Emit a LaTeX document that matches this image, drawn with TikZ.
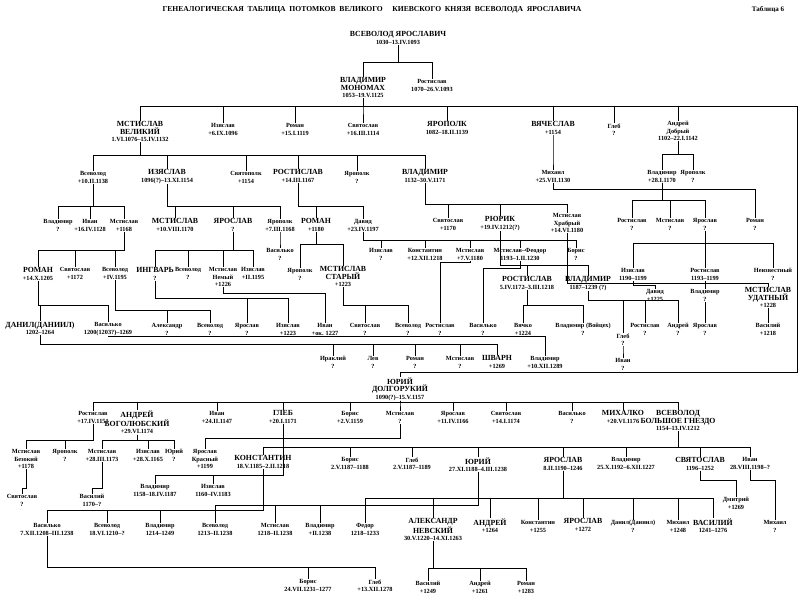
\documentclass[tikz,border=0pt]{standalone}
\usepackage{fontspec}
\setmainfont{Liberation Serif}
\newcommand\nm[1]{{\fontsize{7.8}{8.4}\selectfont #1}}
\newcommand\p[4]{\node[pers] (#1) at (#2,#3) {#4};}
\newcommand\kin[3]{\foreach \k in {#3} \draw[tie] (#1.south) -- (#1.south |- 0,#2) -| (\k.north);}
\begin{document}
\begin{tikzpicture}[
	x=1pt, y=-1pt,
	pers/.style={anchor=north, align=center, inner sep=0.4pt,
		font=\fontsize{6.3}{7.4}\selectfont\bfseries},
	tie/.style={line width=0.9pt}
]
	\useasboundingbox (0,0) rectangle (800,602);
	% title
	\node[font=\fontsize{7.6}{8}\selectfont\bfseries] (title) at (372,10)
		{ГЕНЕАЛОГИЧЕСКАЯ \ ТАБЛИЦА \ ПОТОМКОВ \ ВЕЛИКОГО \quad КИЕВСКОГО \ КНЯЗЯ \ ВСЕВОЛОДА \ ЯРОСЛАВИЧА};
	\node[font=\fontsize{7}{8}\selectfont\bfseries] (tab) at (768,10) {Таблица 6};
	% generation 1-2
	\p{vsev}{398}{31}{\nm{ВСЕВОЛОД ЯРОСЛАВИЧ}\\1030--13.IV.1093}
	\p{mono}{363}{77}{\nm{ВЛАДИМИР}\\\nm{МОНОМАХ}\\1053--19.V.1125}
	\p{rost}{432}{79}{Ростислав\\1070--26.V.1093}
	\kin{vsev}{62}{mono,rost}
	% sons of Monomakh
	\p{mstv}{140}{121}{\nm{МСТИСЛАВ}\\\nm{ВЕЛИКИЙ}\\1.VI.1076--15.IV.1132}
	\p{izm}{223}{123}{Изяслав\\+6.IX.1096}
	\p{romm}{295}{123}{Роман\\+15.I.1119}
	\p{svm}{363}{123}{Святослав\\+16.III.1114}
	\p{jarp}{447}{121}{\nm{ЯРОПОЛК}\\1082--18.II.1139}
	\p{vjach}{553}{121}{\nm{ВЯЧЕСЛАВ}\\+1154}
	\p{glm}{614}{123}{Глеб\\?}
	\p{andd}{678}{121}{Андрей\\Добрый\\1102--22.I.1142}
	\kin{mono}{106}{mstv,izm,romm,svm,jarp,vjach,glm,andd}
	% grandsons
	\p{vsm}{93}{171}{Всеволод\\+10.II.1138}
	\p{izs}{167}{169}{\nm{ИЗЯСЛАВ}\\1096(?)--13.XI.1154}
	\p{svp}{246}{171}{Святополк\\+1154}
	\p{rsl}{298}{169}{\nm{РОСТИСЛАВ}\\+14.III.1167}
	\p{jrp}{357}{171}{Ярополк\\?}
	\p{vlm}{425}{169}{\nm{ВЛАДИМИР}\\1132--30.V.1171}
	\kin{mstv}{155}{vsm,izs,svp,rsl,jrp,vlm}
	\p{mih}{553}{170}{Михаил\\+25.VII.1130}
	\kin{vjach}{160}{mih}
	\p{vla}{662}{170}{Владимир\\+28.I.1170}
	\p{jra}{693}{170}{Ярополк\\?}
	\kin{andd}{154}{vla,jra}
	% row 5
	\p{vl5}{58}{219}{Владимир\\?}
	\p{iv5}{90}{219}{Иван\\+16.IV.1128}
	\p{ms5}{124}{219}{Мстислав\\+1168}
	\kin{vsm}{206}{vl5,iv5,ms5}
	\p{ms6}{175}{218}{\nm{МСТИСЛАВ}\\+10.VIII.1170}
	\p{ja6}{233}{218}{\nm{ЯРОСЛАВ}\\?}
	\p{jp6}{280}{219}{Ярополк\\+7.III.1168}
	\kin{izs}{206}{ms6,ja6,jp6}
	\p{rom7}{316}{218}{\nm{РОМАН}\\+1180}
	\p{dav7}{363}{219}{Давид\\+23.IV.1197}
	\kin{rsl}{206}{rom7,dav7}
	\p{sv8}{448}{218}{Святослав\\+1170}
	\p{rjur}{500}{216}{\nm{РЮРИК}\\+19.IV.1212(?)}
	\p{msh}{567}{213}{Мстислав\\Храбрый\\+14.VI.1180}
	\kin{vlm}{204}{sv8,rjur,msh}
	\p{rsa}{632}{218}{Ростислав\\?}
	\p{msa}{670}{218}{Мстислав\\?}
	\p{jaa}{705}{218}{Ярослав\\?}
	\kin{vla}{200}{rsa,msa,jaa}
	\p{roma}{755}{218}{Роман\\?}
	\kin{mih}{189}{roma}
	% row 6
	\p{rom9}{38}{267}{\nm{РОМАН}\\+14.X.1205}
	\p{sv9}{75}{267}{Святослав\\+1172}
	\p{vs9}{115}{267}{Всеволод\\+IV.1195}
	\kin{ms5}{250}{rom9,sv9,vs9}
	\p{ingv}{155}{267}{\nm{ИНГВАРЬ}\\?}
	\p{vs10}{188}{267}{Всеволод\\?}
	\p{msn}{223}{267}{Мстислав\\Немый\\+1226}
	\p{iz10}{253}{267}{Изяслав\\+II.1195}
	\kin{ja6}{250}{ingv,vs10,msn,iz10}
	\p{vas10}{280}{248}{Василько\\?}
	\kin{jp6}{242}{vas10}
	\p{jp11}{300}{268}{Ярополк\\?}
	\p{mss}{343}{266}{\nm{МСТИСЛАВ}\\\nm{СТАРЫЙ}\\+1223}
	\kin{rom7}{244}{jp11,mss}
	\p{iz11}{381}{248}{Изяслав\\?}
	\p{kon11}{425}{248}{Константин\\+12.XII.1218}
	\p{ms11}{470}{248}{Мстислав\\+7.V.1180}
	\p{msf}{520}{248}{Мстислав--Феодор\\1193--1.II.1230}
	\p{bor11}{576}{248}{Борис\\?}
	\kin{dav7}{240}{iz11,kon11,ms11,msf,bor11}
	\p{rsr}{527}{276}{\nm{РОСТИСЛАВ}\\5.IV.1172--3.III.1218}
	\p{vlr}{588}{276}{\nm{ВЛАДИМИР}\\1187--1239 (?)}
	\kin{rjur}{265}{rsr,vlr}
	\p{izj}{633}{268}{Изяслав\\1190--1199}
	\p{rsj}{705}{268}{Ростислав\\1193--1199}
	\p{neiz}{773}{268}{Неизвестный\\?}
	\kin{jaa}{243}{izj,rsj,neiz}
	\p{davj}{655}{289}{Давид\\+1225}
	\kin{izj}{285}{davj}
	\p{vlj}{705}{289}{Владимир\\?}
	\kin{rsj}{285}{vlj}
	\p{msu}{768}{287}{\nm{МСТИСЛАВ}\\\nm{УДАТНЫЙ}\\+1228}
	\kin{msh}{283}{msu}
	% row 7
	\p{danl}{40}{321}{\nm{ДАНИЛ(ДАНИИЛ)}\\1202--1264}
	\p{vasr}{108}{322}{Василько\\1200(1203?)--1269}
	\kin{rom9}{305}{danl,vasr}
	\p{alx}{167}{323}{Александр\\?}
	\p{vs12}{210}{323}{Всеволод\\?}
	\kin{vs9}{310}{alx,vs12}
	\p{ja12}{247}{323}{Ярослав\\?}
	\p{iz12}{288}{323}{Изяслав\\+1223}
	\kin{ingv}{298}{ja12,iz12}
	\p{iv12}{325}{323}{Иван\\+ок. 1227}
	\kin{msn}{293}{iv12}
	\p{sv12}{365}{323}{Святослав\\?}
	\p{vs13}{408}{323}{Всеволод\\?}
	\kin{mss}{305}{sv12,vs13}
	\p{rs13}{440}{323}{Ростислав\\?}
	\kin{ms11}{262}{rs13}
	\p{vas13}{483}{323}{Василько\\?}
	\kin{msf}{268}{vas13}
	\p{vjk}{523}{323}{Вячко\\+1224}
	\p{vlw}{583}{323}{Владимир (Войцех)\\?}
	\kin{rsr}{305}{vjk,vlw}
	\p{glv}{623}{333}{Глеб\\?}
	\p{rsv}{645}{323}{Ростислав\\?}
	\p{anv}{678}{323}{Андрей\\?}
	\kin{vlr}{300}{glv,rsv,anv}
	\p{ivg}{623}{358}{Иван\\?}
	\kin{glv}{350}{ivg}
	\p{jav}{705}{323}{Ярослав\\?}
	\kin{vlj}{310}{jav}
	\p{vsu}{768}{323}{Василий\\+1218}
	\kin{msu}{312}{vsu}
	% row 8
	\p{irak}{333}{356}{Ираклий\\?}
	\p{lev}{373}{356}{Лев\\?}
	\p{romd}{415}{356}{Роман\\?}
	\p{msd}{460}{356}{Мстислав\\?}
	\p{shv}{497}{355}{\nm{ШВАРН}\\+1269}
	\kin{danl}{344}{irak,lev,romd,msd,shv}
	\p{vlv}{545}{356}{Владимир\\+10.XII.1289}
	\kin{vasr}{336}{vlv}
	% Yuri Dolgoruky
	\p{jurd}{400}{377}{\nm{ЮРИЙ}\\\nm{ДОЛГОРУКИЙ}\\1090(?)--15.V.1157}
	\coordinate (rim) at (797,372);
	\draw[tie] (mono.south) -- (mono.south |- 0,106) -| (rim) -| (jurd.north);
	\p{rsy}{93}{411}{Ростислав\\+17.IV.1151}
	\p{anb}{137}{410}{\nm{АНДРЕЙ}\\\nm{БОГОЛЮБСКИЙ}\\+29.VI.1174}
	\p{ivy}{217}{411}{Иван\\+24.II.1147}
	\p{gly}{283}{410}{\nm{ГЛЕБ}\\+20.I.1171}
	\p{bry}{350}{411}{Борис\\+2.V.1159}
	\p{msy}{400}{411}{Мстислав\\?}
	\p{jay}{453}{411}{Ярослав\\+11.IV.1166}
	\p{svy}{506}{411}{Святослав\\+14.I.1174}
	\p{vasy}{572}{411}{Василько\\?}
	\p{mihy}{623}{410}{\nm{МИХАЛКО}\\+20.VI.1176}
	\p{vbg}{678}{410}{\nm{ВСЕВОЛОД}\\\nm{БОЛЬШОЕ ГНЕЗДО}\\1154--13.IV.1212}
	\kin{jurd}{402}{rsy,anb,ivy,gly,bry,msy,jay,svy,vasy,mihy,vbg}
	% grandsons of Yuri
	\p{msb}{26}{449}{Мстислав\\Безокий\\+1178}
	\p{jpr}{65}{449}{Ярополк\\?}
	\kin{rsy}{440}{msb,jpr}
	\p{msa2}{102}{449}{Мстислав\\+28.III.1173}
	\p{iza}{148}{449}{Изяслав\\+28.X.1165}
	\p{jua}{174}{449}{Юрий\\?}
	\kin{anb}{440}{msa2,iza,jua}
	\p{jkr}{205}{449}{Ярослав\\Красный\\+1199}
	\kin{msy}{438}{jkr}
	\p{vlg}{155}{484}{Владимир\\1158--18.IV.1187}
	\p{izg}{213}{484}{Изяслав\\1160--IV.1183}
	\kin{gly}{475}{vlg,izg}
	\p{svb}{22}{494}{Святослав\\?}
	\kin{msb}{488}{svb}
	\p{vsa}{92}{494}{Василий\\1170--?}
	\kin{msa2}{488}{vsa}
	\p{konv}{263}{455}{\nm{КОНСТАНТИН}\\18.V.1185--2.II.1218}
	\p{brv}{350}{457}{Борис\\2.V.1187--1188}
	\p{glvb}{412}{457}{Глеб\\2.V.1187--1189}
	\p{juv}{478}{457}{\nm{ЮРИЙ}\\27.XI.1188--4.III.1238}
	\p{jav2}{563}{457}{\nm{ЯРОСЛАВ}\\8.II.1190--1246}
	\p{vlv2}{626}{457}{Владимир\\25.X.1192--6.XII.1227}
	\p{svv}{700}{457}{\nm{СВЯТОСЛАВ}\\1196--1252}
	\p{ivv}{750}{457}{Иван\\28.VIII.1198--?}
	\kin{vbg}{447}{konv,brv,glvb,juv,jav2,vlv2,svv,ivv}
	% great-grandsons
	\p{vask}{47}{523}{Василько\\7.XII.1208--III.1238}
	\p{vsk}{107}{523}{Всеволод\\18.VI.1210--?}
	\p{vlk}{160}{523}{Владимир\\1214--1249}
	\kin{konv}{510}{vask,vsk,vlk}
	\p{vsj}{215}{523}{Всеволод\\1213--II.1238}
	\p{msj}{275}{523}{Мстислав\\1218--II.1238}
	\p{vlju}{320}{523}{Владимир\\+II.1238}
	\kin{juv}{505}{vsj,msj,vlju}
	\p{fed}{365}{523}{Федор\\1218--1233}
	\p{alnv}{433}{518}{\nm{АЛЕКСАНДР}\\\nm{НЕВСКИЙ}\\30.V.1220--14.XI.1263}
	\p{anjr}{490}{518}{\nm{АНДРЕЙ}\\+1264}
	\p{konj}{538}{520}{Константин\\+1255}
	\p{jajr}{583}{518}{\nm{ЯРОСЛАВ}\\+1272}
	\p{danj}{633}{520}{Данил(Даниил)\\?}
	\p{mihj}{678}{520}{Михаил\\+1248}
	\p{vasj}{713}{518}{\nm{ВАСИЛИЙ}\\1241--1276}
	\kin{jav2}{498}{fed,alnv,anjr,konj,jajr,danj,mihj,vasj}
	\p{dmit}{736}{497}{Дмитрий\\+1269}
	\kin{svv}{480}{dmit}
	\p{mihi}{775}{520}{Михаил\\?}
	\kin{ivv}{480}{mihi}
	% last row
	\p{borv}{308}{579}{Борис\\24.VII.1231--1277}
	\p{glbv}{375}{579}{Глеб\\+13.XII.1278}
	\kin{vask}{567}{borv,glbv}
	\p{vasa}{428}{581}{Василий\\+1249}
	\p{ana}{480}{581}{Андрей\\+1261}
	\p{roma2}{526}{581}{Роман\\+1283}
	\kin{alnv}{568}{vasa,ana,roma2}
\end{tikzpicture}
\end{document}
